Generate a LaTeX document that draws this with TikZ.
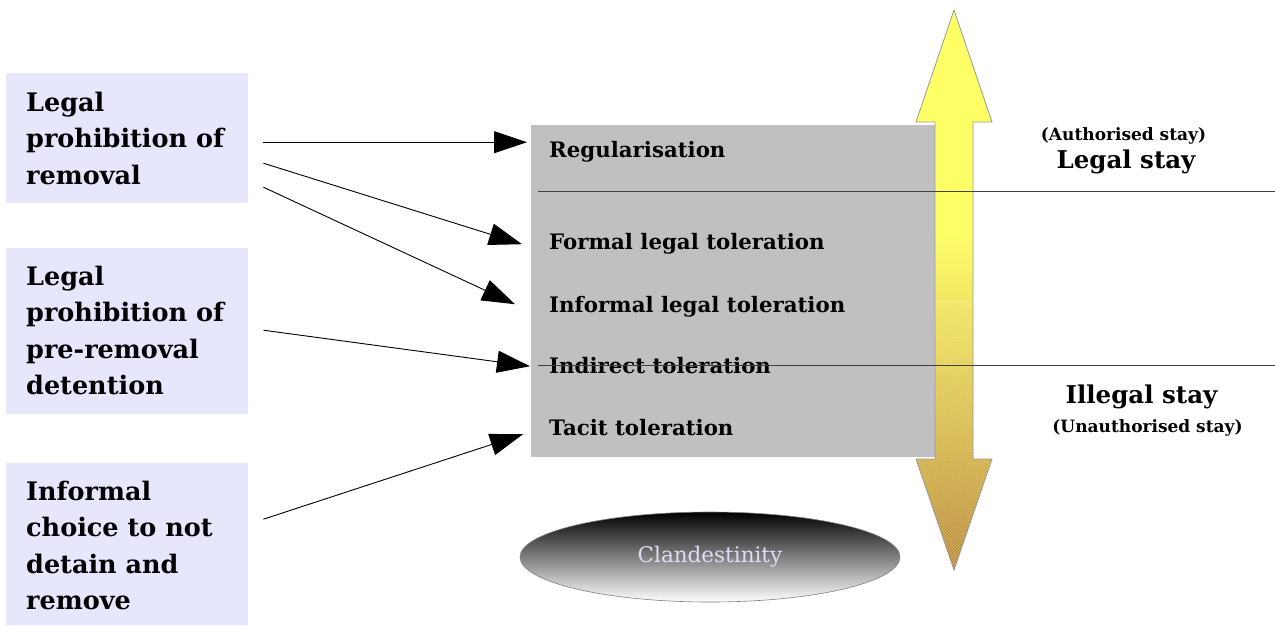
\documentclass[tikz,border=0pt]{standalone}
\usepackage{fontspec}
\setmainfont{DejaVu Serif}
\usetikzlibrary{arrows.meta,calc,shapes.geometric,patterns}
\definecolor{lav}{RGB}{230,230,252}
\definecolor{boxgray}{RGB}{192,192,192}
\definecolor{ylw}{RGB}{255,255,102}
\definecolor{brn}{RGB}{185,135,50}
\definecolor{ruleline}{RGB}{64,64,64}
\definecolor{clandtext}{RGB}{221,221,245}
\pgfdeclareverticalshading{stayshade}{100bp}{color(0bp)=(brn); color(25bp)=(brn); color(55bp)=(ylw); color(100bp)=(ylw)}
\newcommand{\lines}[1]{\vtop{\halign{##\hfil\cr#1\crcr}}}
\begin{document}
\begin{tikzpicture}[x=1pt,y=-1pt,
  srcbox/.style={fill=lav, draw=none, minimum width=242pt, inner sep=0pt, anchor=north west},
  srctext/.style={anchor=base west, inner sep=0pt, font=\fontsize{25.5}{36.5}\selectfont\bfseries},
  steptext/.style={anchor=base west, inner sep=0pt, font=\fontsize{21.3}{25}\selectfont\bfseries},
  arr/.style={-{Triangle[length=33pt,width=22pt]}, line width=0.9pt, black},
  rulestyle/.style={ruleline, line width=1.3pt},
  biglabel/.style={anchor=base, inner sep=0pt, font=\fontsize{24.5}{28}\selectfont\bfseries},
  smalllabel/.style={anchor=base, inner sep=0pt, font=\fontsize{17}{20}\selectfont\bfseries}
]
\useasboundingbox (0,0) rectangle (1275,625);

% source boxes
\node[srcbox, minimum height=130pt] (b1) at (6,73) {};
\node[srcbox, minimum height=166pt] (b2) at (6,248) {};
\node[srcbox, minimum height=162pt] (b3) at (6,463) {};
\node[srctext] (t1) at (26,111) {\baselineskip=36.5pt\lines{Legal\cr prohibition of\cr removal}};
\node[srctext] (t2) at (26,285) {\baselineskip=36.5pt\lines{Legal\cr prohibition of\cr pre-removal\cr detention}};
\node[srctext] (t3) at (26,500) {\baselineskip=36.5pt\lines{Informal\cr choice to not\cr detain and\cr remove}};

% gray box
\node[fill=boxgray, draw=none, minimum width=404pt, minimum height=332pt, inner sep=0pt, anchor=north west] (g) at (531,125) {};

% vertical double arrow
\path[shading=stayshade]
  (954,10) -- (992,122) -- (973,122) -- (973,459) -- (992,459) -- (954,570)
  -- (916,459) -- (935,459) -- (935,122) -- (916,122) -- cycle;
\begin{scope}
  \clip (954,10) -- (992,122) -- (973,122) -- (973,459) -- (992,459) -- (954,570)
  -- (916,459) -- (935,459) -- (935,122) -- (916,122) -- cycle;
  \fill[pattern=north east lines, pattern color=white, opacity=0.35] (900,300) rectangle (1000,575);
  \fill[pattern=north east lines, pattern color=white, opacity=0.15] (900,240) rectangle (1000,300);
\end{scope}
\draw[gray!80, line width=0.8pt]
  (954,10) -- (992,122) -- (973,122) -- (973,459) -- (992,459) -- (954,570)
  -- (916,459) -- (935,459) -- (935,122) -- (916,122) -- cycle;

% step texts
\node[steptext] (s1) at (549,157) {Regularisation};
\node[steptext] (s2) at (549,249) {Formal legal toleration};
\node[steptext] (s3) at (549,312) {Informal legal toleration};
\node[steptext] (s4) at (549,373) {Indirect toleration};
\node[steptext] (s5) at (549,435) {Tacit toleration};

% rules
\draw[rulestyle] (538,191.5) -- (1275,191.5);
\draw[rulestyle] (538,365.5) -- (1275,365.5);

% clandestinity
\node[ellipse, minimum width=380pt, minimum height=90pt, inner sep=0pt,
      top color=black, bottom color=white, draw=gray, line width=0.6pt,
      text=clandtext, font=\fontsize{21.5}{24}\selectfont] (c) at (710,557) {Clandestinity};

% right labels
\node[smalllabel] (la) at (1123.5,140) {(Authorised stay)};
\node[biglabel] (lb) at (1126,168) {Legal stay};
\node[biglabel] (lc) at (1141.5,403) {Illegal stay};
\node[smalllabel] (ld) at (1147.5,432) {(Unauthorised stay)};

% connectors
\coordinate (e1) at ($(g.west)+(-4,-149)$);
\coordinate (e2) at ($(g.west)+(-9,-47)$);
\coordinate (e3) at ($(g.west)+(-16,13)$);
\coordinate (e4) at ($(g.west)+(-1,75)$);
\coordinate (e5) at ($(g.west)+(-8,143)$);
\draw[arr] ($(b1.east)+(15,4)$) -- (e1);
\draw[arr] ($(b1.east)+(15,25)$) -- (e2);
\draw[arr] ($(b1.east)+(15,49)$) -- (e3);
\draw[arr] ($(b2.east)+(15,-1)$) -- (e4);
\draw[arr] ($(b3.east)+(15,-25)$) -- (e5);
\end{tikzpicture}
\end{document}
